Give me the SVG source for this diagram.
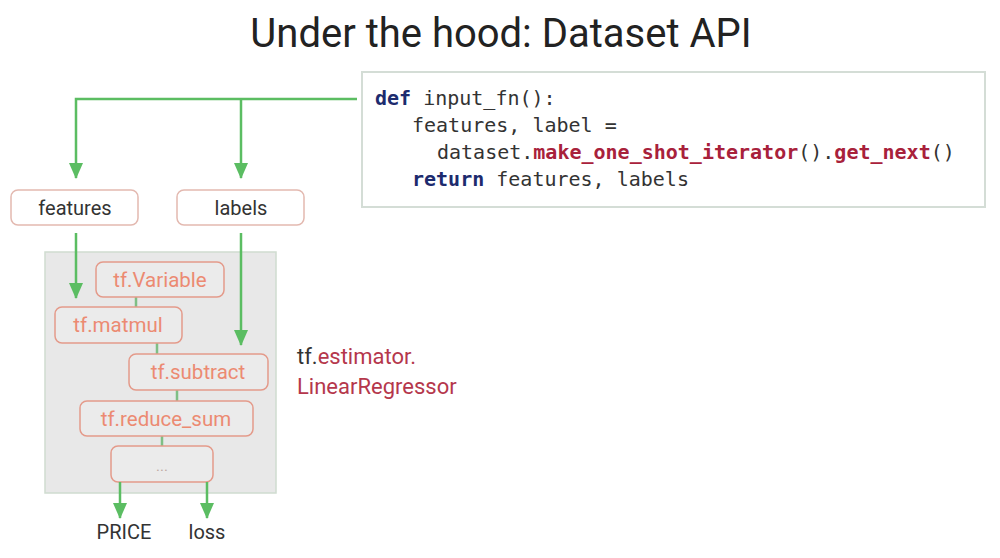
<svg xmlns="http://www.w3.org/2000/svg" width="1000" height="558" viewBox="0 0 1000 558">
<defs>
<style>
.t{font-family:Roboto,"Liberation Sans",sans-serif;}
.node rect{fill:#fff;stroke:#e3b9b0;stroke-width:1.5;}
.op rect{fill:#ebebeb;stroke:#e49a8a;stroke-width:1.5;}
.op text{font-family:Roboto,"Liberation Sans",sans-serif;font-size:20.5px;fill:#ec8a72;text-anchor:middle;}
.node text{font-family:Roboto,"Liberation Sans",sans-serif;font-size:20px;fill:#333;text-anchor:middle;}
.g{stroke:#5bbd62;stroke-width:2.5;fill:none;}
.s{stroke:#7fbf85;stroke-width:2.5;fill:none;}
.code{font-family:"DejaVu Sans Mono","Liberation Mono",monospace;font-size:20px;fill:#333;}
.kw{fill:#1d2b6e;font-weight:bold;}
.fn{fill:#a8213b;font-weight:bold;}
</style>
<marker id="ah" viewBox="0 0 16 14" refX="15" refY="7" markerWidth="16" markerHeight="14" markerUnits="userSpaceOnUse" orient="auto">
<path d="M0,0 L16,7 L0,14 Z" fill="#5bbd62"/>
</marker>
</defs>
<rect width="1000" height="558" fill="#fff"/>
<text class="t" x="501" y="47" font-size="40" fill="#222" text-anchor="middle">Under the hood: Dataset API</text>

<g id="code">
<rect x="362" y="72" width="623" height="135" fill="#fff" stroke="#d4ddd6" stroke-width="2"/>
<text class="code" x="375" y="105"><tspan class="kw">def</tspan> input_fn():</text>
<text class="code" x="412" y="132">features, label =</text>
<text class="code" x="437" y="159">dataset.<tspan class="fn">make_one_shot_iterator</tspan>().<tspan class="fn">get_next</tspan>()</text>
<text class="code" x="412" y="186"><tspan class="kw">return</tspan> features, labels</text>
</g>

<g id="features" class="node">
<rect x="11" y="190" width="127" height="35" rx="7"/>
<text x="75" y="215">features</text>
</g>
<g id="labels" class="node">
<rect x="177" y="190" width="127" height="35" rx="7"/>
<text x="241" y="215">labels</text>
</g>

<g id="estimator">
<rect x="45" y="252" width="231" height="241" fill="#e8e8e8" stroke="#cfdcd0" stroke-width="1.5"/>
<g id="inner-links">
<path class="s" d="M136,297 V307"/>
<path class="s" d="M157,343 V354"/>
<path class="s" d="M177,390 V401"/>
<path class="s" d="M162,436 V446"/>
</g>
<g id="tf-variable" class="op">
<rect x="96" y="262" width="128" height="35" rx="7"/>
<text x="160" y="287">tf.Variable</text>
</g>
<g id="tf-matmul" class="op">
<rect x="55" y="307" width="127" height="36" rx="7"/>
<text x="118" y="332">tf.matmul</text>
</g>
<g id="tf-subtract" class="op">
<rect x="129" y="354" width="139" height="36" rx="7"/>
<text x="198" y="379">tf.subtract</text>
</g>
<g id="tf-reduce-sum" class="op">
<rect x="80" y="401" width="173" height="35" rx="7"/>
<text x="166" y="426">tf.reduce_sum</text>
</g>
<g id="ellipsis" class="op">
<rect x="111" y="446" width="102" height="36" rx="7"/>
<text x="162" y="471" style="fill:#c0a8a2;font-size:15px">...</text>
</g>
</g>

<g id="connectors">
<path class="g" d="M357,99 H76 V178" marker-end="url(#ah)"/>
<path class="g" d="M241,99 V178" marker-end="url(#ah)"/>
<path class="g" d="M76,233 V298" marker-end="url(#ah)"/>
<path class="g" d="M241,233 V345" marker-end="url(#ah)"/>
<path class="g" d="M120,482 V518" marker-end="url(#ah)"/>
<path class="g" d="M207,482 V518" marker-end="url(#ah)"/>
</g>

<g id="estimator-label">
<text class="t" x="297" y="364" font-size="22" fill="#333">tf.<tspan fill="#b5374c">estimator.</tspan></text>
<text class="t" x="297" y="394" font-size="22" fill="#b5374c">LinearRegressor</text>
</g>

<g id="price"><text class="t" x="124" y="539" font-size="20" fill="#333" text-anchor="middle">PRICE</text></g>
<g id="loss"><text class="t" x="207" y="539" font-size="20" fill="#333" text-anchor="middle">loss</text></g>
</svg>
